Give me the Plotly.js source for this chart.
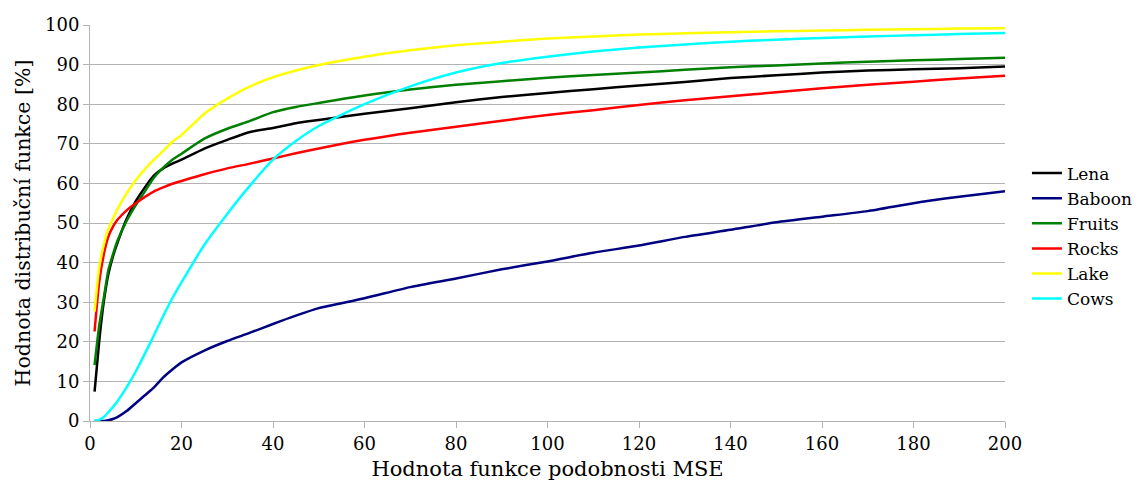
<!DOCTYPE html>
<html>
<head>
<meta charset="utf-8">
<script src="https://cdn.plot.ly/plotly-3.0.1.min.js"></script>
<style>
html,body{margin:0;padding:0;background:#fff;}
#chart{width:1146px;height:487px;}
</style>
</head>
<body>
<div id="chart"></div>
<script>
const xValues = [1,2,3,4,5,6,8,10,12,14,16,18,20,25,30,35,40,45,50,60,70,80,90,100,110,120,130,140,150,160,170,180,190,200];
const lena =   [7.4,20,30,37,41.5,45,51,55.5,59,62,63.8,65,66,68.8,71,73,74,75.2,76,77.6,79,80.5,81.8,82.8,83.8,84.7,85.6,86.6,87.3,88,88.5,88.8,89.1,89.5];
const baboon = [0,0,0,0.2,0.5,1,2.5,4.5,6.5,8.5,11,13,14.8,17.8,20.2,22.3,24.5,26.6,28.5,31,33.8,36,38.3,40.3,42.5,44.3,46.5,48.3,50.2,51.6,53,55,56.6,58];
const fruits = [14.1,24,31,38,42,45.5,50.5,54.5,58,61.5,64,66,67.5,71.3,73.8,75.8,78,79.3,80.3,82.2,83.7,84.9,85.8,86.7,87.4,88,88.7,89.3,89.8,90.3,90.7,91.1,91.4,91.7];
const rocks =  [22.6,35,42,46.5,49,50.8,53.2,55,56.6,58,59,59.9,60.6,62.3,63.8,65,66.3,67.6,68.8,71,72.8,74.3,75.8,77.3,78.5,79.8,81,82,83,84,84.9,85.7,86.5,87.2];
const lake =   [27.6,38.6,44.5,48.5,51,53.5,57.5,60.8,63.6,66,68.2,70.5,72.2,77.6,81.4,84.5,86.8,88.5,89.9,92,93.6,94.9,95.8,96.6,97.1,97.6,97.9,98.2,98.4,98.6,98.8,98.9,99.1,99.2];
const cows =   [0,0.3,1,2.2,3.5,5,8.5,12.5,17,21.7,26.5,31,35,44.5,52.3,59.5,66,70.7,74.5,80,84.5,88,90.4,92,93.3,94.3,95.1,95.8,96.3,96.7,97.1,97.4,97.7,98];

const seriesNames = ["Lena","Baboon","Fruits","Rocks","Lake","Cows"];
const seriesData = [lena, baboon, fruits, rocks, lake, cows];
const seriesColors = ["#000000","#000080","#008000","#ff0000","#ffff00","#00ffff"];

const traces = seriesNames.map((n,i)=>({
  x: xValues, y: seriesData[i], name: n, type: 'scatter', mode: 'lines',
  line: {color: seriesColors[i], width: 2.5, shape: 'spline', smoothing: 0.6}
}));

const FAM = 'DejaVu Serif';
const layout = {
  width: 1146, height: 487,
  margin: {l: 90, r: 141, t: 25, b: 66, autoexpand: false},
  paper_bgcolor: '#fff', plot_bgcolor: '#fff',
  font: {family: FAM, color: '#000', size: 18},
  showlegend: true,
  legend: {x: 1.024, xanchor: 'left', y: 0.467, yanchor: 'middle', font: {family: FAM, color: '#000', size: 17},
           tracegroupgap: 0, itemwidth: 30, bgcolor: 'rgba(0,0,0,0)'},
  xaxis: {
    range: [0, 200], tickvals: [0,20,40,60,80,100,120,140,160,180,200],
    showgrid: false, zeroline: false, showline: true, linecolor: '#b3b3b3', linewidth: 1,
    ticks: 'outside', ticklen: 6, tickcolor: '#b3b3b3',
    tickfont: {family: FAM, color: '#000', size: 18},
    title: {text: 'Hodnota funkce podobnosti MSE', font: {family: FAM, color: '#000', size: 21}, standoff: 8}
  },
  yaxis: {
    range: [0, 100], tickvals: [0,10,20,30,40,50,60,70,80,90,100],
    showgrid: true, gridcolor: '#b3b3b3', gridwidth: 1,
    zeroline: false, showline: true, linecolor: '#b3b3b3', linewidth: 1,
    ticks: 'outside', ticklen: 6, tickcolor: '#b3b3b3',
    tickfont: {family: FAM, color: '#000', size: 18},
    title: {text: 'Hodnota distribuční funkce [%]', font: {family: FAM, color: '#000', size: 20.5}, standoff: 8}
  }
};
Plotly.newPlot('chart', traces, layout, {displayModeBar: false, staticPlot: true});
</script>
</body>
</html>
